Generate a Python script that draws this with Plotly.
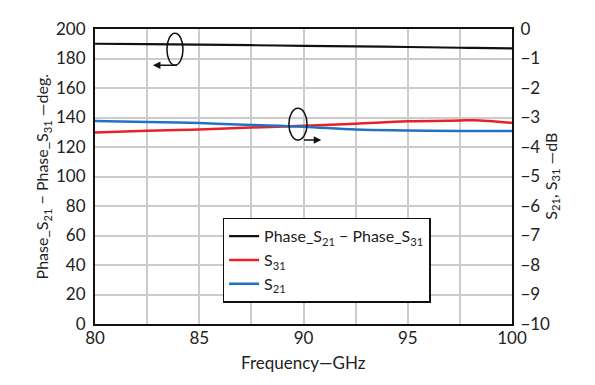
import plotly.graph_objects as go

freq = [80, 82.5, 85, 87.5, 90, 92.5, 95, 97.5, 98.2, 100]
phase_diff = [190.0, 189.7, 189.4, 189.0, 188.6, 188.2, 187.8, 187.3, 187.2, 186.8]
s31 = [-3.51, -3.45, -3.41, -3.34, -3.28, -3.21, -3.13, -3.10, -3.09, -3.18]
s21 = [-3.12, -3.15, -3.19, -3.25, -3.31, -3.41, -3.44, -3.46, -3.46, -3.46]

left_ticks = list(range(0, 201, 20))
right_ticks = list(range(-10, 1, 1))
x_ticks = [80, 85, 90, 95, 100]

FONT = "Lato"
fig = go.Figure()
fig.add_trace(go.Scatter(x=freq, y=phase_diff, mode="lines", line=dict(color="#111111", width=2.2, shape="spline"),
                         name="Phase_S<sub>21</sub> − Phase_S<sub>31</sub>", yaxis="y"))
fig.add_trace(go.Scatter(x=freq, y=s31, mode="lines", line=dict(color="#e8202a", width=2.5, shape="spline"),
                         name="S<sub>31</sub>", yaxis="y2"))
fig.add_trace(go.Scatter(x=freq, y=s21, mode="lines", line=dict(color="#2272c3", width=2.5, shape="spline"),
                         name="S<sub>21</sub>", yaxis="y2"))

grid = "#cccccc"
fig.update_layout(
    width=587, height=377,
    margin=dict(l=87, r=83, t=10, b=61),
    paper_bgcolor="white", plot_bgcolor="white",
    font=dict(family=FONT, size=17, color="#222222"),
    showlegend=True,
    legend=dict(x=0.306, y=0.36, xanchor="left", yanchor="top",
                bordercolor="#111111", borderwidth=1.5, bgcolor="white",
                font=dict(size=16), tracegroupgap=0, itemwidth=30),
    xaxis=dict(range=[80, 100], tickvals=x_ticks,
               showgrid=True, gridcolor=grid, gridwidth=1.5,
               minor=dict(dtick=2.5, tick0=80, showgrid=True, gridcolor=grid, gridwidth=1.5),
               showline=True, linecolor="#111111", linewidth=2, mirror=True, ticks="",
               ticklabelstandoff=-2, zeroline=False),
    yaxis=dict(range=[0, 200], tickvals=left_ticks, showgrid=True, gridcolor=grid, gridwidth=1.5,
               showline=True, linecolor="#111111", linewidth=2, ticks="", zeroline=False,
               ticklabelstandoff=4),
    yaxis2=dict(range=[-10, 0], tickvals=right_ticks, overlaying="y", side="right", showgrid=False,
                showline=True, linecolor="#111111", linewidth=2, ticks="", zeroline=False,
                ticklabelstandoff=3),
)

# axis titles placed as annotations
fig.add_annotation(x=-0.125, y=0.5, xref="paper", yref="paper", textangle=-90, showarrow=False,
                   text="Phase_S<sub>21</sub> − Phase_S<sub>31</sub> —deg.", font=dict(size=16),
                   xanchor="center", yanchor="middle")
fig.add_annotation(x=1.094, y=0.5, xref="paper", yref="paper", textangle=-90, showarrow=False,
                   text="S<sub>21</sub>, S<sub>31</sub> —dB", font=dict(size=16),
                   xanchor="center", yanchor="middle")
fig.add_annotation(x=0.5, y=-0.13, xref="paper", yref="paper", showarrow=False,
                   text="Frequency—GHz", font=dict(size=17), xanchor="center", yanchor="middle")

# ellipse markers with arrows pointing to their axes
fig.add_shape(type="circle", xref="x", yref="y", x0=83.45, x1=84.22, y0=175.5, y1=197.1,
              line=dict(color="#111111", width=1.5))
fig.add_annotation(x=82.78, y=175.5, ax=84.0, ay=175.5, xref="x", yref="y", axref="x", ayref="y",
                   text="", showarrow=True, arrowhead=2, arrowsize=1, arrowwidth=1.5, arrowcolor="#111111")
fig.add_shape(type="circle", xref="x", yref="y", x0=89.3, x1=90.17, y0=124.7, y1=146.2,
              line=dict(color="#111111", width=1.5))
fig.add_annotation(x=90.85, y=124.7, ax=89.95, ay=124.7, xref="x", yref="y", axref="x", ayref="y",
                   text="", showarrow=True, arrowhead=2, arrowsize=1, arrowwidth=1.5, arrowcolor="#111111")

fig.write_html("out.html")
